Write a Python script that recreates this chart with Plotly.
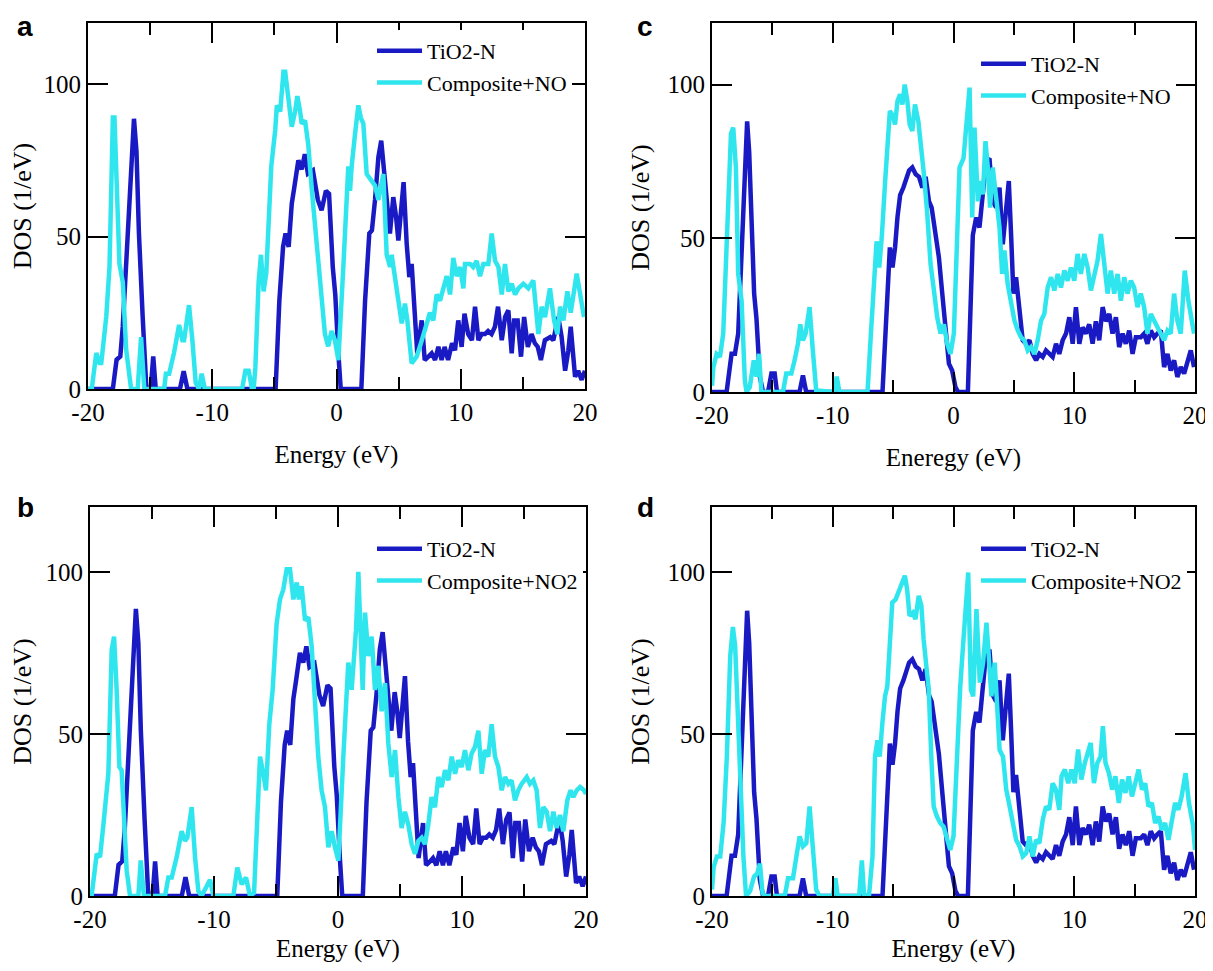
import plotly.graph_objects as go

# ---------------- data ----------------
# TiO2-N, panels a and b
energy_tio2n_ab = [-20, -18.0, -17.7, -17.4, -17.2, -16.8, -16.45, -16.3, -16.1, -15.9,
                   -15.6, -15.3, -14.95, -14.75, -14.55, -12.6, -12.3, -12.0, -4.9, -4.6,
                   -4.3, -4.1, -3.85, -3.6, -3.4, -3.07, -2.8, -2.55, -2.3, -1.9,
                   -1.5, -1.2, -0.85, -0.6, -0.3, -0.1, 0.15, 0.34, 2.0, 2.3,
                   2.64, 2.85, 3.1, 3.37, 3.6, 3.8, 4.1, 4.3, 4.57, 4.78,
                   4.98, 5.2, 5.4, 5.65, 5.86, 6.05, 6.3, 6.5, 6.86, 7.1,
                   7.4, 7.66, 7.93, 8.2, 8.46, 8.7, 8.98, 9.3, 9.54, 9.8,
                   10.07, 10.3, 10.6, 10.9, 11.15, 11.42, 11.68, 11.95, 12.2, 12.48,
                   12.75, 13.0, 13.3, 13.57, 13.83, 14.1, 14.3, 14.58, 14.85, 15.1,
                   15.4, 15.7, 15.96, 16.2, 16.45, 16.77, 17.2, 17.45, 17.85, 18.12,
                   18.4, 18.66, 18.85, 19.2, 19.45, 19.73, 20.0]
dos_tio2n_ab = [0, 0, 9.6, 10.7, 20.5, 51, 73, 88.6, 78, 51,
                23.7, 0, 0, 10.7, 0, 0, 5.8, 0, 0, 29,
                46.6, 51, 46.6, 60.8, 66, 75, 72, 77, 70.6, 71.7,
                62, 58.6, 65, 64, 40, 31, 11.7, 0, 0, 29,
                51, 52, 62, 76, 81.4, 72.7, 56, 51, 62.9, 57,
                48.7, 59.6, 67.8, 47.6, 36.7, 41, 22.5, 11.7, 22.5, 9.5,
                10.6, 11.7, 9.5, 13.8, 9.5, 13.8, 9.5, 15, 12.7, 22.5,
                13.8, 24.7, 18, 16, 27, 16, 18, 18, 19, 18,
                20.4, 27, 16, 23.6, 25.8, 11.7, 22.5, 22.5, 10.6, 23.6,
                13.8, 18, 15, 13.8, 9.5, 16, 17, 16, 23.6, 17,
                6, 12.7, 20.4, 4, 6, 3, 6]

# TiO2-N, panels c and d
energy_tio2n_cd = [-20, -18.79, -18.38, -18.1, -17.83, -17.55, -17.28, -17.09, -16.92, -16.73,
                   -16.51, -16.32, -16.04, -15.77, -15.36, -15.08, -14.81, -14.62, -12.75, -12.47,
                   -12.2, -5.88, -5.47, -5.27, -5.05, -4.84, -4.64, -4.42, -4.15, -3.96,
                   -3.68, -3.41, -3.13, -2.86, -2.58, -2.31, -2.03, -1.81, -1.48, -1.21,
                   -0.93, -0.66, -0.38, -0.11, 0.16, 0.38, 1.19, 1.6, 1.88, 2.15,
                   2.43, 2.7, 2.98, 3.25, 3.53, 3.81, 4.08, 4.36, 4.58, 4.77,
                   4.96, 5.18, 5.46, 5.73, 6.01, 6.29, 6.56, 6.84, 7.11, 7.39,
                   7.66, 7.94, 8.21, 8.49, 8.76, 9.04, 9.32, 9.59, 9.87, 10.14,
                   10.42, 10.69, 10.97, 11.24, 11.52, 11.79, 12.07, 12.35, 12.62, 12.9,
                   13.17, 13.45, 13.72, 14.0, 14.27, 14.55, 14.83, 15.1, 15.51, 15.79,
                   16.06, 16.34, 16.62, 16.89, 17.17, 17.44, 17.72, 17.99, 18.27, 18.54,
                   18.82, 19.1, 19.37, 19.65, 19.92]
dos_tio2n_cd = [0, 0, 12.4, 12.4, 19, 46, 73, 88, 78, 51,
                32, 24, 5, 0, 0, 6, 6, 0, 0, 5.4,
                0, 0, 29.7, 47, 40.5, 47, 56.8, 64, 66.5, 68.6,
                72, 73, 70.8, 70, 66.5, 70, 62, 60, 51, 43.8,
                32, 19, 9.2, 7, 1.6, 0, 0, 51, 56.8, 53.5,
                66.5, 75, 76, 62, 60, 66.5, 48, 62, 68.6, 51,
                32, 37.3, 27.6, 16.8, 15.7, 16.8, 12.4, 10.3, 12.4, 11.4,
                13.5, 12.4, 11.4, 15.7, 12.4, 16.8, 19, 24.3, 15.7, 27.6,
                15.7, 21, 19, 22, 15.7, 23, 16.8, 27.6, 23, 25.4,
                19, 24.3, 14.6, 19, 15.7, 20, 12.4, 17.8, 17.8, 19,
                15.7, 20, 17.8, 19, 20, 8.1, 12.4, 7, 10.3, 4.9,
                8.1, 6, 9.2, 13.5, 8.1]

# Composite+NO, panel a
energy_no_a = [-20, -19.7, -19.33, -19.07, -18.93, -18.53, -18.27, -18.0, -17.87, -17.6,
               -17.47, -17.2, -16.93, -16.53, -16.0, -15.73, -15.47, -13.87, -13.73, -13.47,
               -13.07, -12.67, -12.4, -12.27, -11.87, -11.6, -11.33, -11.07, -10.85, -10.6,
               -7.6, -7.33, -7.07, -6.8, -6.67, -6.53, -6.27, -6.08, -5.87, -5.65,
               -5.47, -5.25, -4.93, -4.8, -4.53, -4.27, -4.13, -3.87, -3.6, -3.33,
               -3.15, -2.93, -2.8, -2.53, -2.27, -2.0, -1.73, -1.47, -1.2, -0.93,
               -0.67, -0.4, -0.13, 0.15, 0.55, 0.95, 1.09, 1.22, 1.49, 1.76,
               1.95, 2.16, 2.43, 2.83, 3.1, 3.37, 3.77, 4.04, 4.31, 4.44,
               4.71, 4.98, 5.25, 5.51, 5.7, 6.05, 6.45, 6.72, 7.12, 7.52,
               7.79, 8.06, 8.33, 8.6, 8.87, 9.14, 9.4, 9.67, 9.94, 10.21,
               10.34, 10.75, 11.0, 11.28, 11.55, 11.82, 12.22, 12.49, 12.76, 13.03,
               13.3, 13.56, 13.83, 14.1, 14.37, 14.64, 15.04, 15.44, 15.84, 16.25,
               16.51, 16.78, 17.18, 17.51, 17.78, 17.99, 18.26, 18.58, 18.85, 19.33,
               19.6, 19.92]
dos_no_a = [0, 0, 11.8, 8.5, 8.5, 23.7, 40, 89, 89, 51,
            41, 35, 13, 0, 0, 17, 0, 0, 5, 5,
            12, 21, 16, 16, 27.5, 16, 2, 0, 5, 0,
            0, 6, 6, 0, 0, 7, 35, 44, 32, 38,
            51, 73, 85, 93, 91, 104, 104, 94.5, 86, 91,
            96, 91, 87, 88, 80, 66, 53, 40, 27, 18,
            14, 19, 16, 9.5, 40, 73, 65, 73, 83.5, 93,
            89, 87, 70.5, 68, 66.7, 62, 70.5, 44, 40, 44,
            37, 28, 21.5, 28, 22.5, 8.4, 10.6, 14, 19, 25,
            22.5, 31, 29, 33, 37, 31, 43, 37, 40, 33,
            41, 41, 40, 42, 37, 41, 41, 51, 42, 40,
            31, 41, 32, 34.5, 31, 33, 34.5, 33, 35.6, 18,
            27, 23.6, 33, 22.5, 18, 27, 22.5, 32, 25, 37.8,
            31, 23.6]

# Composite+NO2, panel b
energy_no2_b = [-20, -19.87, -19.46, -19.19, -18.92, -18.52, -18.25, -18.06, -17.85, -17.63,
                -17.45, -17.26, -17.04, -16.77, -16.1, -15.91, -15.65, -13.95, -13.68, -13.41,
                -13.01, -12.61, -12.34, -12.15, -11.8, -11.53, -11.26, -11.0, -10.32, -10.05,
                -8.44, -8.12, -7.77, -7.42, -7.1, -6.77, -6.56, -6.29, -6.02, -5.81,
                -5.54, -5.27, -4.95, -4.68, -4.41, -4.14, -3.87, -3.6, -3.33, -3.15,
                -2.93, -2.66, -2.39, -2.12, -1.85, -1.59, -1.32, -1.05, -0.78, -0.51,
                -0.24, 0.03, 0.43, 0.83, 1.1, 1.29, 1.45, 1.64, 1.77, 1.99,
                2.18, 2.45, 2.72, 2.98, 3.25, 3.52, 3.79, 4.06, 4.33, 4.6,
                4.87, 5.13, 5.4, 5.67, 5.94, 6.21, 6.48, 6.75, 7.02, 7.28,
                7.55, 7.82, 8.09, 8.36, 8.63, 8.9, 9.17, 9.44, 9.7, 9.97,
                10.24, 10.51, 10.78, 11.05, 11.32, 11.59, 11.85, 12.12, 12.39, 12.66,
                12.93, 13.2, 13.47, 13.74, 14.0, 14.27, 14.54, 14.81, 15.22, 15.48,
                15.75, 16.02, 16.29, 16.56, 16.83, 17.1, 17.37, 17.63, 17.9, 18.17,
                18.49, 18.76, 18.98, 19.25, 19.52, 19.84, 20.0]
dos_no2_b = [0, 0, 13, 12, 22, 37.7, 76, 80, 63.6, 39.8,
             38.8, 24, 7.8, 0, 0, 11, 0, 0, 5.7, 5.7,
             12, 20, 17, 18, 27.4, 12, 1.5, 0, 5, 0,
             0, 8.8, 3.6, 5.7, 0, 1, 20, 43, 37.7, 32.6,
             53, 63.6, 84, 91.5, 94.6, 100.8, 100.8, 91.5, 96.7, 91.5,
             95.6, 85, 86, 77, 59.5, 43, 32.6, 27.4, 15, 20,
             15, 10.9, 43, 72, 63.6, 72, 82, 100, 84, 63.6,
             87.4, 74, 80, 63.6, 71, 57, 65.7, 47, 36.7, 45,
             30.5, 21, 26, 22, 16, 13, 17, 18, 16, 22,
             30.5, 27.4, 36.7, 33.6, 38.8, 35.7, 43, 37.7, 41.9, 39.8,
             45, 38.8, 44, 46, 51, 37.7, 45, 43, 53, 43,
             39.8, 32.6, 36.7, 34.6, 35.7, 29.5, 32.6, 34.6, 36.7, 34.6,
             35.7, 32.6, 21, 27.4, 26, 20, 26, 21, 25, 20,
             29.5, 32.6, 30.5, 32.6, 33.6, 32.6, 31.5]

# Composite+NO, panel c
energy_no_c = [-20, -19.89, -19.62, -19.34, -19.07, -18.85, -18.65, -18.43, -18.24, -18.02,
               -17.83, -17.55, -17.28, -17.14, -16.87, -16.54, -16.32, -16.1, -15.91, -14.12,
               -13.85, -13.43, -13.16, -12.88, -12.69, -12.47, -12.25, -11.92, -11.65, -11.37,
               -9.86, -9.67, -9.45, -7.12, -6.84, -6.57, -6.37, -6.15, -5.93, -5.66,
               -5.47, -5.27, -5.05, -4.84, -4.64, -4.42, -4.23, -4.04, -3.82, -3.63,
               -3.41, -3.19, -2.91, -2.72, -2.45, -2.17, -1.9, -1.62, -1.35, -1.07,
               -0.8, -0.52, -0.25, 0.03, 0.22, 0.5, 0.83, 1.05, 1.33, 1.55,
               1.74, 2.02, 2.21, 2.43, 2.65, 2.84, 3.03, 3.25, 3.53, 3.81,
               4.03, 4.22, 4.49, 4.77, 5.05, 5.32, 5.6, 5.87, 6.15, 6.42,
               6.7, 6.97, 7.25, 7.52, 7.8, 8.08, 8.35, 8.63, 8.9, 9.18,
               9.45, 9.73, 10.0, 10.28, 10.55, 10.83, 11.11, 11.38, 11.66, 11.93,
               12.21, 12.48, 12.76, 13.03, 13.31, 13.59, 13.86, 14.14, 14.41, 14.69,
               14.96, 15.24, 15.51, 15.79, 16.06, 16.34, 16.62, 16.89, 17.17, 17.44,
               17.72, 17.99, 18.27, 18.54, 18.82, 19.15, 19.45, 19.78, 19.92]
dos_no_c = [2, 8, 12.4, 11.4, 19, 40.5, 62, 84, 86, 73,
            38.4, 29.7, 3.8, 0, 1.6, 10.3, 5, 12.4, 0, 0,
            6, 6, 10.3, 15.7, 22, 16.8, 19, 27.6, 13.5, 0.5,
            0, 5, 0, 0, 19, 40.5, 49, 40.5, 51, 68.6,
            78, 91.4, 90, 87, 94.6, 96.8, 93.5, 100, 94.6, 87,
            84.9, 93.5, 88, 81.6, 70.8, 57.8, 41.6, 33, 24.3, 19,
            22, 15.7, 12.4, 19, 45, 73, 76, 86, 99, 56.8,
            86, 62, 68.6, 64.3, 81.6, 73, 60, 73, 62, 53.5,
            38.4, 46, 35, 29.7, 23.2, 20, 17.8, 16.8, 13.5, 14.6,
            12.4, 16.8, 23.2, 25.4, 34, 37.3, 33, 38.4, 34, 39.5,
            36.2, 40.5, 36.2, 44.9, 38.4, 44.9, 40.5, 33, 37.3, 42.7,
            51.4, 40.5, 32, 39.5, 32, 38.4, 29.7, 37.3, 32, 36.2,
            34, 27.6, 32, 27.6, 19, 25.4, 23.2, 21, 19, 16.8,
            20, 19, 32, 23.2, 19, 39.5, 29.7, 23.2, 19]

# Composite+NO2, panel d
energy_no2_d = [-20, -19.86, -19.59, -19.32, -19.04, -18.77, -18.49, -18.27, -18.08, -17.86,
                -17.67, -17.4, -17.18, -16.85, -16.52, -16.25, -16.03, -15.81, -15.62, -13.97,
                -13.7, -13.29, -13.01, -12.74, -12.47, -12.19, -11.92, -11.64, -11.37, -11.1,
                -10.0, -9.78, -9.59, -7.81, -7.59, -7.4, -6.99, -6.71, -6.5, -6.3,
                -6.11, -5.89, -5.67, -5.48, -5.29, -5.07, -4.79, -4.58, -4.3, -4.03,
                -3.84, -3.64, -3.37, -3.15, -2.88, -2.66, -2.47, -2.27, -2.05, -1.84,
                -1.64, -1.37, -1.1, -0.82, -0.55, -0.27, 0.0, 0.27, 0.55, 0.73,
                0.95, 1.22, 1.44, 1.63, 1.9, 2.18, 2.45, 2.73, 2.92, 3.14,
                3.41, 3.63, 3.82, 4.1, 4.37, 4.65, 4.92, 5.19, 5.47, 5.74,
                6.02, 6.29, 6.56, 6.84, 7.11, 7.39, 7.66, 7.93, 8.21, 8.48,
                8.76, 8.95, 9.22, 9.5, 9.77, 10.04, 10.32, 10.59, 10.87, 11.14,
                11.36, 11.63, 11.91, 12.18, 12.37, 12.59, 12.87, 13.14, 13.41, 13.69,
                13.96, 14.24, 14.51, 14.78, 15.06, 15.33, 15.61, 15.88, 16.15, 16.43,
                16.7, 16.98, 17.25, 17.52, 17.8, 18.07, 18.35, 18.62, 18.89, 19.22,
                19.5, 19.85, 20.0]
dos_no2_d = [2, 9, 12.2, 12.2, 22.5, 43, 74, 83, 77, 53.4,
             35, 12.2, 0, 1.5, 6, 7, 10, 0.8, 0, 0,
             5.5, 5.5, 12.2, 18.4, 15.3, 16.3, 27.6, 14.2, 1.9, 0,
             0, 5.5, 0, 0, 11, 0, 0.5, 12.2, 43, 48,
             43, 53.4, 61.6, 64.7, 79, 90.5, 91.5, 93.6, 95.7, 98.8,
             94.6, 86.4, 87.4, 85.4, 92.6, 89.5, 79, 72, 63.7, 43,
             27.6, 24.5, 22.5, 21.4, 17.3, 14.2, 18.4, 45, 64, 74,
             84, 99.8, 63.7, 61.6, 88.5, 65.8, 72, 84.3, 74, 61.6,
             72, 53.4, 45, 43, 32.8, 27.6, 22.5, 17.3, 15.3, 12.2,
             13.2, 18.4, 12.2, 17.3, 16.3, 23.5, 27.6, 26.6, 34.8, 32.8,
             26.6, 36.9, 39, 34.8, 39, 34.8, 45.2, 35.9, 41, 45.2,
             47.2, 34.8, 41, 43, 52.4, 41, 37.9, 32.8, 36.9, 28.7,
             35.9, 31.8, 36.9, 30.7, 34.8, 39, 32.8, 34.8, 27.6, 28.7,
             22.5, 24.5, 20.4, 22.5, 17.3, 22.5, 28.7, 26.6, 30.7, 37.9,
             28.7, 21.4, 14.2]

x_ticks = [-20, -10, 0, 10, 20]
x_tick_text = ["-20", "-10", "0", "10", "20"]
y_ticks = [0, 50, 100]
y_tick_text = ["0", "50", "100"]

pairs = [(energy_tio2n_ab, dos_tio2n_ab), (energy_tio2n_cd, dos_tio2n_cd),
         (energy_no_a, dos_no_a), (energy_no2_b, dos_no2_b),
         (energy_no_c, dos_no_c), (energy_no2_d, dos_no2_d)]
for ex, dy in pairs:
    assert len(ex) == len(dy), (len(ex), len(dy))

# ---------------- styling ----------------
PAGE_W, PAGE_H = 1213, 971
OFF = 8  # default body margin of the html page
W, H = PAGE_W - OFF, PAGE_H - 2 * OFF
BLUE = "#1a1ac4"
CYAN = "#30e6ee"
SERIF = "Liberation Serif"


def px_x(p):
    return (p - OFF) / W


def px_y(p):
    return 1 - (p - OFF) / H


panels = [
    ("a", "x", "y", "legend", energy_tio2n_ab, dos_tio2n_ab, energy_no_a, dos_no_a,
     "Composite+NO", "Energy (eV)", (88, 585, 23, 389), (372, 30)),
    ("c", "x2", "y2", "legend2", energy_tio2n_cd, dos_tio2n_cd, energy_no_c, dos_no_c,
     "Composite+NO", "Eneregy (eV)", (712, 1195, 23, 392), (976, 43)),
    ("b", "x3", "y3", "legend3", energy_tio2n_ab, dos_tio2n_ab, energy_no2_b, dos_no2_b,
     "Composite+NO2", "Energy (eV)", (90, 586, 507, 896), (372, 528)),
    ("d", "x4", "y4", "legend4", energy_tio2n_cd, dos_tio2n_cd, energy_no2_d, dos_no2_d,
     "Composite+NO2", "Energy (eV)", (712, 1195, 507, 896), (976, 528)),
]

fig = go.Figure()
layout = dict(
    width=W, height=H,
    margin=dict(l=0, r=0, t=0, b=0),
    paper_bgcolor="white", plot_bgcolor="white",
    font=dict(family=SERIF, color="black"),
    showlegend=True,
    annotations=[],
)

for (lab, xa, ya, lg, e1, d1, e2, d2, comp_name, xtitle, box, lgpos) in panels:
    fig.add_trace(go.Scatter(x=e1, y=d1, mode="lines", name="TiO2-N",
                             line=dict(color=BLUE, width=4.5), xaxis=xa, yaxis=ya, legend=lg))
    fig.add_trace(go.Scatter(x=e2, y=d2, mode="lines", name=comp_name,
                             line=dict(color=CYAN, width=4.5), xaxis=xa, yaxis=ya, legend=lg))
    x0, x1, y0, y1 = box
    xkey = "xaxis" + xa[1:]
    ykey = "yaxis" + ya[1:]
    bottom_row = lab in ("b", "d")
    layout[xkey] = dict(
        domain=[px_x(x0), px_x(x1)], anchor=ya, range=[-20, 20],
        tickmode="array", tickvals=x_ticks, ticktext=x_tick_text,
        ticks="inside", ticklen=20, tickwidth=2, tickcolor="black",
        ticklabeloverflow="allow",
        minor=dict(tickmode="linear", tick0=-20, dtick=5, ticks="inside",
                   ticklen=12, tickwidth=2, tickcolor="black"),
        showline=True, linewidth=2, linecolor="black", mirror="ticks",
        showgrid=False, zeroline=False, automargin=False,
        tickfont=dict(family=SERIF, size=25, color="black"),
        title=dict(text=xtitle, font=dict(family=SERIF, size=25, color="black"),
                   standoff=17 if bottom_row else 20),
    )
    layout[ykey] = dict(
        domain=[px_y(y1), px_y(y0)], anchor=xa, range=[0, 120],
        tickmode="array", tickvals=y_ticks, ticktext=y_tick_text,
        ticks="inside", ticklen=20, tickwidth=2, tickcolor="black",
        showline=True, linewidth=2, linecolor="black", mirror="ticks",
        showgrid=False, zeroline=False, automargin=False,
        tickfont=dict(family=SERIF, size=25, color="black"),
        title=dict(text="DOS (1/eV)", font=dict(family=SERIF, size=26, color="black"), standoff=10),
    )
    layout[lg] = dict(
        x=px_x(lgpos[0]), y=px_y(lgpos[1]), xanchor="left", yanchor="top",
        bgcolor="white", borderwidth=0, tracegroupgap=0, itemwidth=45,
        font=dict(family=SERIF, size=22, color="black"),
    )
    lx = 25 if lab in ("a", "b") else 645
    ly = 27 if lab in ("a", "c") else 507
    layout["annotations"].append(dict(
        text="<b>%s</b>" % lab, x=px_x(lx), y=px_y(ly), xref="paper", yref="paper",
        showarrow=False, xanchor="center", yanchor="middle",
        font=dict(family="Liberation Sans", size=28, color="black"),
    ))

fig.update_layout(**layout)
fig.write_html("out.html")
